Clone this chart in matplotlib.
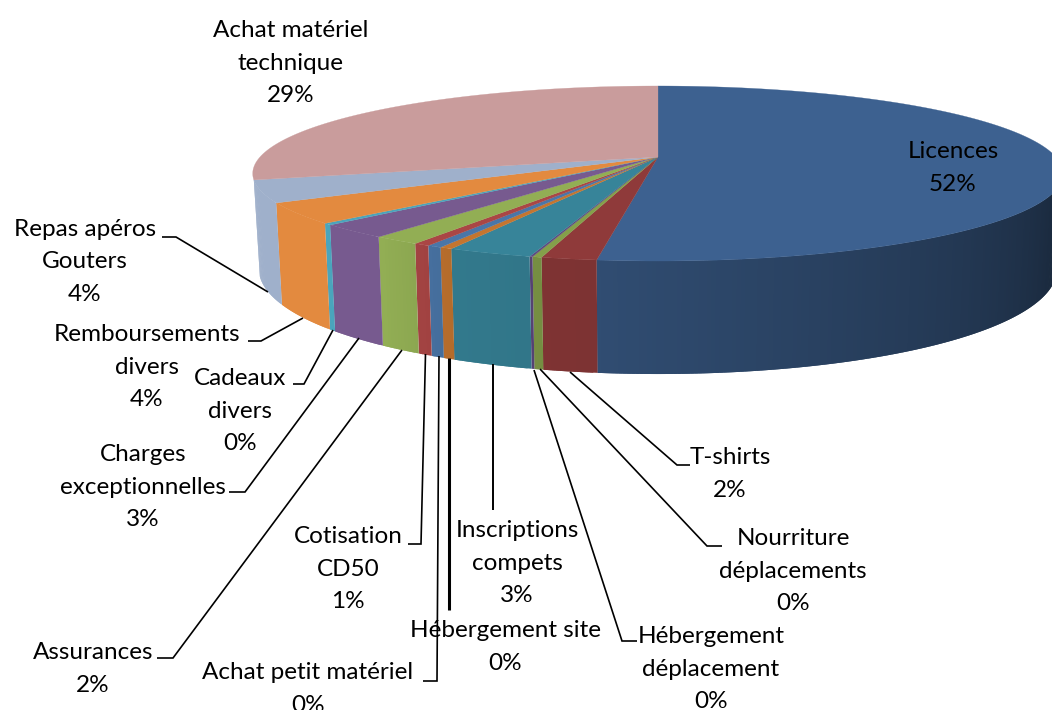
import matplotlib
matplotlib.use('Agg')
import matplotlib.pyplot as plt
import numpy as np
from matplotlib.colors import to_rgb

plt.rcParams['font.family'] = ['Lato', 'DejaVu Sans']

# percentages, clockwise from 12 o'clock
names = ['Licences', 'T-shirts', 'Nourriture\ndéplacements', 'Hébergement\ndéplacement',
         'Inscriptions\ncompets', 'Hébergement site', 'Achat petit matériel', 'Cotisation\nCD50',
         'Assurances', 'Charges\nexceptionnelles', 'Cadeaux\ndivers', 'Remboursements\ndivers',
         'Repas apéros\nGouters', 'Achat matériel\ntechnique']
values = [52.0, 1.84, 0.31, 0.10, 2.84, 0.42, 0.49, 0.54, 1.61, 2.53, 0.31, 3.80, 4.05, 29.16]
top_colors = ['#3d6190', '#8f3a3a', '#84a04a', '#5f4a80', '#378499', '#c4752f', '#4a76a8',
              '#aa4645', '#92ae54', '#775a8f', '#4aa5bc', '#e38a3f', '#9fb0cb', '#c99c9c']
# label centre in pixels
label_x = [953, 730, 793, 711, 517, 505, 308, 348, 93, 143, 240, 147, 85, 291]
label_y = [166, 472, 569, 667, 561, 645, 687, 567, 667, 485, 409, 365, 260, 61]
# leader lines in pixels, None for the label inside the pie
leaders = [None,
           [(570, 372), (677, 465), (690, 465)],
           [(540, 369), (707, 546), (722, 546)],
           [(534, 370), (622, 641), (637, 641)],
           [(493, 364), (493, 510)],
           [(449, 358), (449, 610)],
           [(439, 356), (437, 681), (423, 681)],
           [(425.5, 354), (421, 544), (408, 544)],
           [(402, 350), (173, 658), (157, 658)],
           [(359, 338), (245, 492), (229, 492)],
           [(333, 330), (304, 384), (293, 384)],
           [(303, 318), (261, 341), (248, 341)],
           [(268, 292), (176, 237), (162, 237)],
           None]
leader_widths = [0, 1.2, 1.2, 1.2, 1.4, 2.2, 1.2, 1.2, 1.2, 1.2, 1.2, 1.2, 1.2, 0]

# projection of the tilted disc onto the page
cx, cy = 658, 157
rx = 398
k = 0.1886
c = -54.8


def rim(phi, bottom=False):
    a = np.radians(phi)
    u, v = np.sin(a), np.cos(a)
    d = 1 + k * v
    x = cx + rx * u / d
    y = (cy + c * v) / d
    if bottom:
        x = cx + 0.985 * rx * u / d
        y = y + 91 - 22 * v
    return x, y


def shade(phi, i):
    if i == 0:
        return np.interp(phi, [90, 113, 140, 187.2], [0.42, 0.44, 0.58, 0.79])
    return np.interp(phi, [187, 206, 216], [0.87, 0.92, 1.0])


fig = plt.figure(figsize=(10.52, 7.10), dpi=100)
ax = fig.add_axes([0, 0, 1, 1])
ax.set_xlim(0, 1052)
ax.set_ylim(710, 0)
ax.axis('off')

edges = np.concatenate([[0], np.cumsum(values)]) * 3.6

# side wall, thin strips so that the shading changes around the pie
for i in range(len(values)):
    lo = max(edges[i], 90)
    hi = min(edges[i + 1], 255)
    if hi <= lo:
        continue
    steps = np.linspace(lo, hi, max(int((hi - lo) / 0.5), 1) + 1)
    base = np.array(to_rgb(top_colors[i]))
    for p0, p1 in zip(steps[:-1], steps[1:]):
        # each strip runs a bit under the next one, no seams then
        end = min(p1 + 0.5, hi)
        x0, y0 = rim(p0)
        x1, y1 = rim(end)
        x2, y2 = rim(end, True)
        x3, y3 = rim(p0, True)
        col = base * shade((p0 + p1) / 2, i)
        ax.fill([x0, x1, x2, x3], [y0, y1, y2, y3], color=col, lw=0)

# top of the pie
for i in range(len(values)):
    phi = np.linspace(edges[i], edges[i + 1], max(int(values[i] * 8), 2))
    xs, ys = rim(phi)
    ax.fill(np.r_[cx, xs], np.r_[cy, ys], color=top_colors[i], lw=0.2)

for i, line in enumerate(leaders):
    if line:
        ax.plot([p[0] for p in line], [p[1] for p in line], color='black', lw=leader_widths[i],
                solid_joinstyle='miter', solid_capstyle='butt')

# one text per line, the line pitch is then exact
for i in range(len(names)):
    rows = names[i].split('\n') + ['%.0f%%' % values[i]]
    for j, row in enumerate(rows):
        y = label_y[i] + (j - (len(rows) - 1) / 2) * 32.6 + 8.5
        ax.text(label_x[i], y, row, ha='center', va='baseline', fontsize=17.5, color='black')

fig.savefig('out.png', dpi=100)
